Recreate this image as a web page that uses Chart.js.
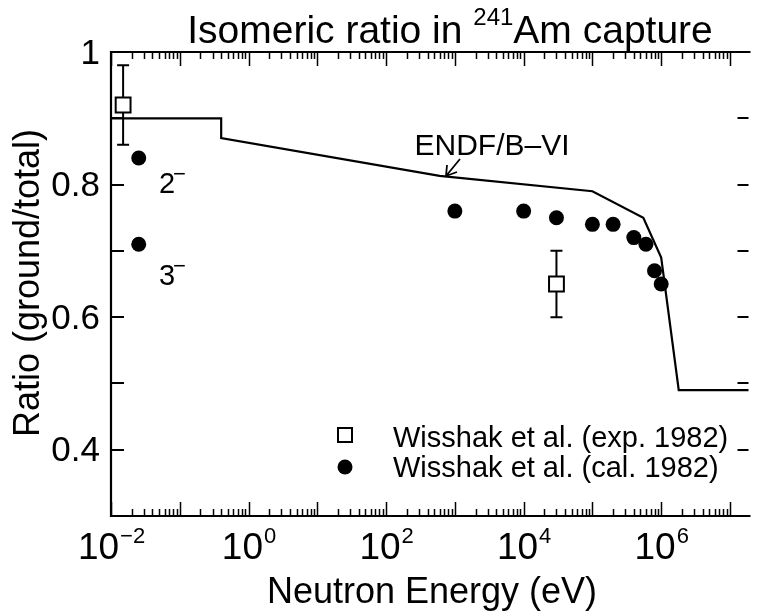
<!DOCTYPE html>
<html>
<head>
<meta charset="utf-8">
<title>Isomeric ratio in 241Am capture</title>
<script src="https://cdn.jsdelivr.net/npm/chart.js@4/dist/chart.umd.min.js"></script>
<style>
  html, body { margin: 0; padding: 0; background: #fff; }
  canvas { display: block; }
</style>
</head>
<body>
<canvas id="ratioChart" width="761" height="616"></canvas>
<script>
// ENDF/B-VI evaluation (step line)
const endfEnergy = [0.01, 0.4, 0.4, 600, 1e5, 5.5e5, 1e6, 1.8e6, 1.86e7];
const endfRatio  = [0.90, 0.90, 0.87, 0.813, 0.79, 0.75, 0.69, 0.49, 0.49];

// Wisshak et al. experiment 1982
const expEnergy = [0.015, 3e4];
const expRatio  = [0.92, 0.65];
const expError  = [0.06, 0.05];

// Wisshak et al. calculation 1982
const calEnergy = [0.0253, 0.0253, 1e3, 1e4, 3e4, 1e5, 2e5, 4e5, 6e5, 8e5, 1e6];
const calRatio  = [0.84, 0.71, 0.76, 0.76, 0.75, 0.74, 0.74, 0.72, 0.71, 0.67, 0.65];

// axis ticks
const xMin = 0.01, xMax = 1.86e7;
const xTickExponents = [-2, 0, 2, 4, 6];
const yMin = 0.3, yMax = 1.0;
const yTickValues = [0.4, 0.6, 0.8, 1.0];
const yTickLabels = ['0.4', '0.6', '0.8', '1'];
const yMinorValues = [0.4, 0.5, 0.6, 0.7, 0.8, 0.9];

const FONT = '"Liberation Sans", Arial, Helvetica, sans-serif';

function toPoints(xs, ys) {
  return xs.map((x, i) => ({ x: x, y: ys[i] }));
}

// error bars are drawn under the markers
const errorBars = {
  id: 'errorBars',
  beforeDatasetsDraw(chart) {
    const ctx = chart.ctx;
    const xs = chart.scales.x, ys = chart.scales.y;
    ctx.save();
    ctx.strokeStyle = '#000';
    ctx.lineWidth = 2;
    expEnergy.forEach((e, i) => {
      const px = xs.getPixelForValue(e);
      const top = ys.getPixelForValue(expRatio[i] + expError[i]);
      const bot = ys.getPixelForValue(expRatio[i] - expError[i]);
      ctx.beginPath();
      ctx.moveTo(px, top); ctx.lineTo(px, bot);
      ctx.moveTo(px - 6, top); ctx.lineTo(px + 6, top);
      ctx.moveTo(px - 6, bot); ctx.lineTo(px + 6, bot);
      ctx.stroke();
    });
    ctx.restore();
  }
};

// frame, inward ticks, labels, titles, legend and annotations
const decorations = {
  id: 'decorations',
  afterDraw(chart) {
    const ctx = chart.ctx;
    const a = chart.chartArea;
    const xs = chart.scales.x, ys = chart.scales.y;
    ctx.save();
    ctx.strokeStyle = '#000';
    ctx.fillStyle = '#000';
    ctx.lineWidth = 2.2;

    // frame (right edge runs off the picture)
    ctx.beginPath();
    ctx.moveTo(a.right + 2, a.top);
    ctx.lineTo(a.left, a.top);
    ctx.lineTo(a.left, a.bottom);
    ctx.lineTo(a.right + 2, a.bottom);
    ctx.stroke();

    // x ticks top and bottom
    ctx.lineWidth = 1.5;
    ctx.beginPath();
    for (let d = -2; d <= 7; d++) {
      for (let m = 1; m <= 9; m++) {
        const v = m * Math.pow(10, d);
        if (v < xMin || v > xMax) continue;
        const px = Math.round(xs.getPixelForValue(v)) + 0.5;
        const len = m === 1 ? 14 : 7;
        ctx.moveTo(px, a.top); ctx.lineTo(px, a.top + len);
        ctx.moveTo(px, a.bottom); ctx.lineTo(px, a.bottom - len);
      }
    }
    ctx.stroke();

    // y ticks left and right
    ctx.lineWidth = 2;
    ctx.beginPath();
    yMinorValues.forEach(v => {
      const py = Math.round(ys.getPixelForValue(v));
      ctx.moveTo(a.left, py); ctx.lineTo(a.left + 13, py);
      ctx.moveTo(a.right, py); ctx.lineTo(a.right - 11, py);
    });
    ctx.stroke();

    // y tick labels
    ctx.font = '35px ' + FONT;
    ctx.textAlign = 'right';
    ctx.textBaseline = 'middle';
    yTickValues.forEach((v, i) => {
      ctx.fillText(yTickLabels[i], a.left - 11, ys.getPixelForValue(v) + 2);
    });

    // x tick labels 10^n
    ctx.textBaseline = 'alphabetic';
    ctx.textAlign = 'left';
    xTickExponents.forEach(n => {
      const px = xs.getPixelForValue(Math.pow(10, n));
      const exp = n < 0 ? '\u2212' + Math.abs(n) : String(n);
      ctx.font = '37px ' + FONT;
      const wBase = ctx.measureText('10').width;
      ctx.font = '22px ' + FONT;
      const wExp = ctx.measureText(exp).width;
      const x0 = px - (wBase + wExp) / 2;
      ctx.font = '37px ' + FONT;
      ctx.fillText('10', x0, 559);
      ctx.font = '22px ' + FONT;
      ctx.fillText(exp, x0 + wBase + 1, 543);
    });

    // axis titles
    ctx.font = '36px ' + FONT;
    ctx.textAlign = 'center';
    ctx.fillText('Neutron Energy (eV)', 432, 603);
    ctx.save();
    ctx.translate(39, 283);
    ctx.rotate(-Math.PI / 2);
    ctx.fillText('Ratio (ground/total)', 0, 0);
    ctx.restore();

    // title with superscript mass number
    ctx.textAlign = 'left';
    const t1 = 'Isomeric ratio in ', sup = '241', t2 = 'Am capture';
    ctx.font = '39px ' + FONT;
    const w1 = ctx.measureText(t1).width, w2 = ctx.measureText(t2).width;
    ctx.font = '24px ' + FONT;
    const ws = ctx.measureText(sup).width;
    let tx = 450 - (w1 + ws + w2) / 2;
    ctx.font = '39px ' + FONT;
    ctx.fillText(t1, tx, 43);
    ctx.font = '24px ' + FONT;
    ctx.fillText(sup, tx + w1, 25);
    ctx.font = '39px ' + FONT;
    ctx.fillText(t2, tx + w1 + ws, 43);

    // ENDF label with arrow
    ctx.font = '30px ' + FONT;
    ctx.textAlign = 'center';
    ctx.fillText('ENDF/B\u2013VI', 492, 155);
    ctx.lineWidth = 1.8;
    ctx.beginPath();
    ctx.moveTo(460, 159); ctx.lineTo(446, 176);
    ctx.moveTo(446, 176); ctx.lineTo(447, 165);
    ctx.moveTo(446, 176); ctx.lineTo(457, 172);
    ctx.stroke();

    // spin labels
    ctx.textAlign = 'left';
    ctx.font = '29px ' + FONT;
    ctx.fillText('2', 159, 193);
    ctx.fillText('3', 159, 285);
    ctx.font = '22px ' + FONT;
    ctx.fillText('\u2212', 173, 181);
    ctx.fillText('\u2212', 173, 273);

    // legend
    ctx.lineWidth = 2;
    ctx.fillStyle = '#fff';
    ctx.fillRect(338, 428, 14, 14);
    ctx.strokeRect(338, 428, 14, 14);
    ctx.fillStyle = '#000';
    ctx.beginPath();
    ctx.arc(345, 467, 7.5, 0, Math.PI * 2);
    ctx.fill();
    ctx.font = '29px ' + FONT;
    ctx.textBaseline = 'alphabetic';
    ctx.fillText('Wisshak et al. (exp. 1982)', 393, 447);
    ctx.fillText('Wisshak et al. (cal. 1982)', 393, 477);

    ctx.restore();
  }
};

new Chart(document.getElementById('ratioChart'), {
  type: 'scatter',
  data: {
    datasets: [
      {
        label: 'ENDF/B-VI',
        data: toPoints(endfEnergy, endfRatio),
        showLine: true,
        borderColor: '#000',
        borderWidth: 2.2,
        pointRadius: 0,
        tension: 0,
        clip: false
      },
      {
        label: 'Wisshak et al. (exp. 1982)',
        data: toPoints(expEnergy, expRatio),
        pointStyle: 'rect',
        pointRadius: 10.5,
        backgroundColor: '#fff',
        borderColor: '#000',
        borderWidth: 2,
        clip: false
      },
      {
        label: 'Wisshak et al. (cal. 1982)',
        data: toPoints(calEnergy, calRatio),
        pointStyle: 'circle',
        pointRadius: 7.5,
        backgroundColor: '#000',
        borderColor: '#000',
        borderWidth: 0,
        clip: false
      }
    ]
  },
  options: {
    responsive: false,
    animation: false,
    layout: { padding: { left: 111, top: 52, right: 0, bottom: 100 } },
    plugins: {
      legend: { display: false },
      tooltip: { enabled: false }
    },
    scales: {
      x: { type: 'logarithmic', min: xMin, max: xMax, display: false },
      y: { type: 'linear', min: yMin, max: yMax, display: false }
    }
  },
  plugins: [errorBars, decorations]
});
</script>
</body>
</html>
